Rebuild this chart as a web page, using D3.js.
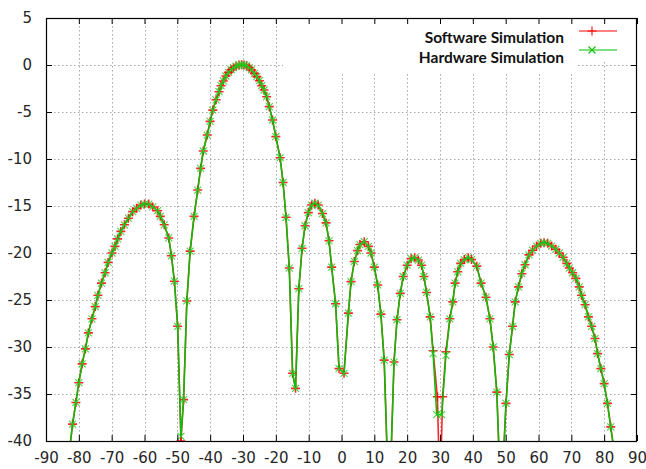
<!DOCTYPE html>
<html>
<head>
<meta charset="utf-8">
<script src="https://cdn.jsdelivr.net/npm/d3@7"></script>
<style>
  html, body { margin: 0; padding: 0; background: #fff; }
  svg { display: block; }
  .tick text { font-family: "DejaVu Sans", sans-serif; font-size: 15px; fill: #262626; }
</style>
</head>
<body>
<svg id="chart" width="646" height="469"></svg>
<script>
// Axis ticks
const xTicks = [-90, -80, -70, -60, -50, -40, -30, -20, -10, 0, 10, 20, 30, 40, 50, 60, 70, 80, 90];
const yTicks = [-40, -35, -30, -25, -20, -15, -10, -5, 0, 5];

// Series names
const seriesNames = ["Software Simulation", "Hardware Simulation"];

// Hardware simulation: angle (deg) and level (dB)
const hwAngle = [
  -83.0, -81.9, -80.9, -80.0, -79.0, -78.0, -77.1, -76.0, -75.0, -74.2,
  -73.1, -72.0, -71.1, -69.9, -69.0, -68.2, -67.2, -66.1, -64.9, -63.6,
  -62.4, -61.1, -60.0, -58.7, -57.5, -56.0, -55.2, -54.0, -52.6, -51.8,
  -50.9, -49.9, -48.9, -48.1, -47.1, -46.1, -44.9, -43.8, -42.9, -42.1,
  -40.9, -40.0, -39.2, -38.2, -37.3, -36.7, -36.0, -35.2, -34.4, -33.6,
  -32.9, -32.1, -31.2, -30.4, -29.7, -28.9, -28.1, -27.4, -26.5, -25.8,
  -25.0, -24.3, -23.6, -22.8, -22.0, -21.0, -20.0, -18.7, -17.8, -16.9,
  -15.9, -14.9, -14.0, -13.0, -12.0, -11.1, -10.1, -9.1, -8.1, -7.1,
  -5.8, -4.7, -3.8, -3.0, -1.8, -0.75, 0.76, 2.1, 2.9, 3.9,
  4.9, 5.6, 6.95, 8.2, 9.0, 10.0, 11.0, 12.0, 13.0, 14.5,
  16.0, 16.9, 17.9, 18.8, 20.0, 21.2, 22.3, 23.4, 24.4, 25.1,
  25.9, 27.0, 27.9, 29.0, 30.5, 31.8, 33.0, 33.9, 34.6, 35.4,
  36.3, 37.4, 38.6, 39.6, 41.2, 42.5, 44.0, 45.2, 46.2, 47.3,
  48.6, 50.1, 51.1, 52.1, 52.9, 53.9, 54.9, 55.9, 57.1, 58.2,
  59.4, 60.7, 61.7, 62.8, 64.0, 65.3, 66.3, 67.5, 68.6, 69.4,
  70.4, 71.4, 72.4, 73.1, 74.2, 75.2, 76.2, 77.2, 78.0, 79.0,
  80.0, 81.0, 82.0, 83.4
];
const hwLevel = [
  -41.5, -38.2, -35.9, -33.8, -31.8, -30.2, -28.5, -27.0, -25.7, -24.5,
  -23.2, -22.1, -21.0, -20.0, -19.3, -18.5, -17.7, -17.0, -16.3, -15.6,
  -15.25, -14.9, -14.8, -14.8, -15.1, -15.5, -16.1, -17.0, -18.4, -20.3,
  -23.0, -27.8, -39.5, -35.6, -25.1, -19.8, -16.1, -13.3, -11.0, -9.15,
  -7.45, -6.0, -4.8, -3.7, -2.84, -2.2, -1.7, -1.17, -0.78, -0.5,
  -0.28, -0.11, 0.0, 0.03, 0.0, -0.07, -0.28, -0.53, -0.89, -1.24,
  -1.67, -2.2, -2.66, -3.37, -4.43, -5.85, -7.62, -9.86, -12.5, -16.2,
  -21.6, -32.8, -34.4, -23.8, -19.5, -17.1, -15.7, -14.9, -14.7, -14.9,
  -15.8, -16.8, -18.7, -21.5, -25.4, -32.3, -32.8, -26.4, -23.05, -20.9,
  -19.75, -19.1, -18.8, -19.3, -20.0, -21.5, -23.4, -26.5, -31.4, -48.0,
  -31.6, -27.1, -24.3, -22.5, -21.3, -20.6, -20.5, -20.75, -21.3, -22.5,
  -24.2, -26.8, -30.7, -37.2, -37.2, -30.9, -27.0, -25.2, -23.2, -22.0,
  -21.1, -20.7, -20.5, -20.7, -21.4, -23.2, -24.7, -27.0, -30.0, -34.8,
  -47.0, -36.0, -30.8, -27.8, -25.2, -23.6, -22.2, -21.25, -20.2, -19.7,
  -19.26, -18.97, -18.9, -18.97, -19.26, -19.6, -20.0, -20.46, -21.1, -21.6,
  -22.1, -22.7, -23.6, -24.5, -25.5, -26.8, -27.8, -29.1, -30.7, -32.3,
  -33.9, -36.0, -38.5, -42.0
];

// Software simulation: angle (deg) and level (dB)
const swAngle = [
  -83.0, -81.9, -80.9, -80.0, -79.0, -78.0, -77.1, -76.0, -75.0, -74.2,
  -73.1, -72.0, -71.1, -69.9, -69.0, -68.2, -67.2, -66.1, -64.9, -63.6,
  -62.4, -61.1, -60.0, -58.7, -57.5, -56.0, -55.2, -54.0, -52.6, -51.8,
  -50.9, -49.9, -48.9, -48.1, -47.1, -46.1, -44.9, -43.8, -42.9, -42.1,
  -40.9, -40.0, -39.2, -38.2, -37.3, -36.7, -36.0, -35.2, -34.4, -33.6,
  -32.9, -32.1, -31.2, -30.4, -29.7, -28.9, -28.1, -27.4, -26.5, -25.8,
  -25.0, -24.3, -23.6, -22.8, -22.0, -21.0, -20.0, -18.7, -17.8, -16.9,
  -15.9, -14.9, -14.0, -13.0, -12.0, -11.1, -10.1, -9.1, -8.1, -7.1,
  -5.8, -4.7, -3.8, -3.0, -1.8, -0.75, 0.76, 2.1, 2.9, 3.9,
  4.9, 5.6, 6.95, 8.2, 9.0, 10.0, 11.0, 12.0, 13.0, 14.5,
  16.0, 16.9, 17.9, 18.8, 20.0, 21.2, 22.3, 23.4, 24.4, 25.1,
  25.9, 27.0, 27.9, 29.2, 30.0, 30.8, 31.8, 33.0, 33.9, 34.6,
  35.4, 36.3, 37.4, 38.6, 39.6, 41.2, 42.5, 44.0, 45.2, 46.2,
  47.3, 48.6, 50.1, 51.1, 52.1, 52.9, 53.9, 54.9, 55.9, 57.1,
  58.2, 59.4, 60.7, 61.7, 62.8, 64.0, 65.3, 66.3, 67.5, 68.6,
  69.4, 70.4, 71.4, 72.4, 73.1, 74.2, 75.2, 76.2, 77.2, 78.0,
  79.0, 80.0, 81.0, 82.0, 83.4
];
const swLevel = [
  -41.5, -38.2, -35.9, -33.8, -31.8, -30.2, -28.5, -27.0, -25.7, -24.5,
  -23.2, -22.1, -21.0, -20.0, -19.3, -18.5, -17.7, -17.0, -16.3, -15.6,
  -15.25, -14.9, -14.8, -14.8, -15.1, -15.5, -16.1, -17.0, -18.4, -20.3,
  -23.0, -27.8, -40.0, -35.6, -25.1, -19.8, -16.1, -13.3, -11.0, -9.15,
  -7.45, -6.0, -4.8, -3.7, -2.84, -2.2, -1.7, -1.17, -0.78, -0.5,
  -0.28, -0.11, 0.0, 0.03, 0.0, -0.07, -0.28, -0.53, -0.89, -1.24,
  -1.67, -2.2, -2.66, -3.37, -4.43, -5.85, -7.62, -9.86, -12.5, -16.2,
  -21.6, -32.8, -34.4, -23.8, -19.5, -17.1, -15.7, -14.9, -14.7, -14.9,
  -15.8, -16.8, -18.7, -21.5, -25.4, -32.3, -32.8, -26.4, -23.05, -20.9,
  -19.75, -19.1, -18.8, -19.3, -20.0, -21.5, -23.4, -26.5, -31.4, -48.0,
  -31.6, -27.1, -24.3, -22.5, -21.3, -20.6, -20.5, -20.75, -21.3, -22.5,
  -24.2, -26.8, -30.4, -35.3, -46.0, -35.3, -30.5, -27.0, -25.2, -23.2,
  -22.0, -21.1, -20.7, -20.5, -20.7, -21.4, -23.2, -24.7, -27.0, -30.0,
  -34.8, -47.0, -36.0, -30.8, -27.8, -25.2, -23.6, -22.2, -21.25, -20.2,
  -19.7, -19.26, -18.97, -18.9, -18.97, -19.26, -19.6, -20.0, -20.46, -21.1,
  -21.6, -22.1, -22.7, -23.6, -24.5, -25.5, -26.8, -27.8, -29.1, -30.7,
  -32.3, -33.9, -36.0, -38.5, -42.0
];

const software = swAngle.map((a, i) => ({ a, v: swLevel[i] }));
const hardware = hwAngle.map((a, i) => ({ a, v: hwLevel[i] }));

const svg = d3.select("#chart");
const plotLeft = 46, plotRight = 637, plotTop = 18, plotBottom = 441;

const x = d3.scaleLinear().domain([-90, 90]).range([plotLeft, plotRight]);
const y = d3.scaleLinear().domain([-40, 5]).range([plotBottom, plotTop]);

const RED = "#ff0000";
const GREEN = "#00c000";

// Plain ASCII hyphen for negative tick labels
const fmt = d => String(d);

// Dotted grid
const grid = svg.append("g")
  .attr("stroke", "#a8a8a8")
  .attr("stroke-width", 1)
  .attr("stroke-dasharray", "1.5,2.5");
grid.selectAll("line.gx").data(xTicks.slice(1, -1)).join("line")
  .attr("x1", d => Math.round(x(d)) + 0.5).attr("x2", d => Math.round(x(d)) + 0.5)
  .attr("y1", plotTop).attr("y2", plotBottom);
grid.selectAll("line.gy").data(yTicks.slice(1, -1)).join("line")
  .attr("x1", plotLeft).attr("x2", plotRight)
  .attr("y1", d => Math.round(y(d)) + 0.5).attr("y2", d => Math.round(y(d)) + 0.5);

// Opaque key background
svg.append("rect").attr("x", 283).attr("y", plotTop + 1).attr("width", 295).attr("height", 55).attr("fill", "#fff");
svg.append("rect").attr("x", 578).attr("y", plotTop + 1).attr("width", plotRight - 578 - 1).attr("height", 41).attr("fill", "#fff");

// Plot clip
svg.append("clipPath").attr("id", "plotClip")
  .append("rect").attr("x", plotLeft).attr("y", plotTop).attr("width", plotRight - plotLeft).attr("height", plotBottom - plotTop);

const line = d3.line().x(d => x(d.a)).y(d => y(d.v));
const plot = svg.append("g").attr("clip-path", "url(#plotClip)");

function plusPath(cx, cy, r) {
  return `M${cx - r},${cy}H${cx + r}M${cx},${cy - r}V${cy + r}`;
}
function crossPath(cx, cy, r) {
  return `M${cx - r},${cy - r}L${cx + r},${cy + r}M${cx - r},${cy + r}L${cx + r},${cy - r}`;
}

// Software series (red, +)
plot.append("path").datum(software)
  .attr("d", line).attr("fill", "none").attr("stroke", RED).attr("stroke-width", 1.6).attr("stroke-opacity", 0.85);
plot.append("g").selectAll("path").data(software.filter(d => d.v >= -40.5)).join("path")
  .attr("d", d => plusPath(x(d.a), y(d.v), 4.5))
  .attr("stroke", RED).attr("stroke-width", 1.6).attr("fill", "none").attr("stroke-opacity", 0.85);

// Hardware series (green, x)
plot.append("path").datum(hardware)
  .attr("d", line).attr("fill", "none").attr("stroke", GREEN).attr("stroke-width", 1.5);
plot.append("g").selectAll("path").data(hardware.filter(d => d.v >= -40.5)).join("path")
  .attr("d", d => crossPath(x(d.a), y(d.v), 3.5))
  .attr("stroke", "#22cc22").attr("stroke-width", 1.1).attr("fill", "none").attr("stroke-opacity", 0.85);

// Axes with inward ticks on all four sides
const tick = 6;
svg.append("g").attr("transform", `translate(0,${plotBottom})`)
  .call(d3.axisBottom(x).tickValues(xTicks).tickFormat(fmt).tickSizeInner(-tick).tickSizeOuter(0).tickPadding(11))
  .call(g => g.select(".domain").remove());
svg.append("g").attr("transform", `translate(0,${plotTop})`)
  .call(d3.axisTop(x).tickValues(xTicks).tickSizeInner(-tick).tickSizeOuter(0).tickFormat(""))
  .call(g => g.select(".domain").remove());
svg.append("g").attr("transform", `translate(${plotLeft},0)`)
  .call(d3.axisLeft(y).tickValues(yTicks).tickFormat(fmt).tickSizeInner(-tick).tickSizeOuter(0).tickPadding(14))
  .call(g => g.select(".domain").remove());
svg.append("g").attr("transform", `translate(${plotRight},0)`)
  .call(d3.axisRight(y).tickValues(yTicks).tickSizeInner(-tick).tickSizeOuter(0).tickFormat(""))
  .call(g => g.select(".domain").remove());
svg.selectAll(".tick line").attr("stroke", "#000");

// Border
svg.append("rect")
  .attr("x", plotLeft + 0.5).attr("y", plotTop + 0.5)
  .attr("width", plotRight - plotLeft - 1).attr("height", plotBottom - plotTop)
  .attr("fill", "none").attr("stroke", "#000").attr("stroke-width", 1.2);

// Key
const key = svg.append("g");
const keyRows = [
  { name: seriesNames[0], color: RED, marker: plusPath, r: 4.5, yLine: 31, yText: 43 },
  { name: seriesNames[1], color: GREEN, marker: crossPath, r: 3.5, yLine: 50, yText: 62.5 }
];
keyRows.forEach(k => {
  key.append("text")
    .attr("x", 564).attr("y", k.yText)
    .attr("text-anchor", "end")
    .attr("font-family", "Lato, 'Open Sans', sans-serif")
    .attr("font-weight", "bold")
    .attr("font-size", 15.5)
    .attr("fill", "#111")
    .text(k.name);
  key.append("line")
    .attr("x1", 579).attr("x2", 617).attr("y1", k.yLine).attr("y2", k.yLine)
    .attr("stroke", k.color).attr("stroke-width", 1.2);
  key.append("path")
    .attr("d", k.marker(592, k.yLine, k.r))
    .attr("stroke", k.color).attr("stroke-width", 1.1).attr("fill", "none");
});
</script>
</body>
</html>
